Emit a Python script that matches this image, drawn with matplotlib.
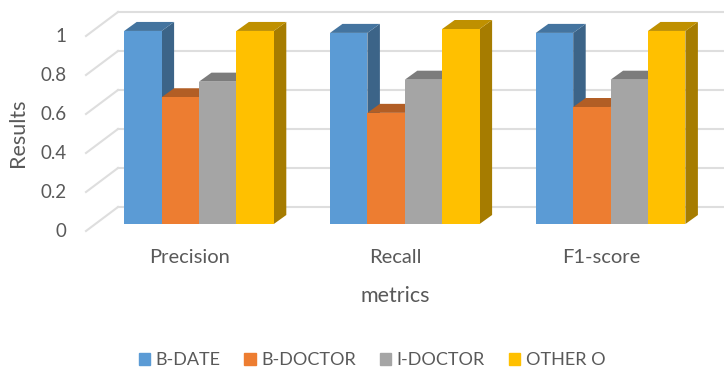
import matplotlib
matplotlib.use('Agg')
import matplotlib.pyplot as plt
from matplotlib.patches import Polygon, Patch
from matplotlib.transforms import ScaledTranslation

metrics = ['Precision', 'Recall', 'F1-score']
series = ['B-DATE', 'B-DOCTOR', 'I-DOCTOR', 'OTHER O']
b_date = [0.99, 0.98, 0.98]
b_doctor = [0.65, 0.57, 0.60]
i_doctor = [0.73, 0.74, 0.74]
other_o = [0.99, 1.0, 0.99]
y_ticks = [0, 0.2, 0.4, 0.6, 0.8, 1]
y_labels = ['0', '0.2', '0.4', '0.6', '0.8', '1']

front = ['#5b9bd5', '#ed7d31', '#a5a5a5', '#ffc000']
top = ['#44749f', '#b25e25', '#7c7c7c', '#bf9000']
side = ['#3c6488', '#b25e25', '#7c7c7c', '#a67c00']
text_col = '#595959'
grid_col = '#dedede'

plt.rcParams['font.family'] = ['Lato', 'DejaVu Sans']

W, H = 724, 369
fig = plt.figure(figsize=(W / 100, H / 100), dpi=100)
# axes box: left wall corner to right end of the grid, y from 0 to 1 on the bar plane
left, right, y0, y1 = 86, 724, 224, 29
ax = fig.add_axes([left / W, 1 - y0 / H, (right - left) / W, (y0 - y1) / H])
ax.set_ylim(0, 1)
group_px = 205.8
bar_w = 37.4 / group_px
# group centre 0 sits at pixel 199
ax.set_xlim((left - 199) / group_px, (right - 199) / group_px)

# fake 3D offsets, in data units
dx = 12.5 / group_px
dy = 9 / 195
wall_x0 = (86 - 199) / group_px
wall_x1 = (118 - 199) / group_px
wall_x2 = (724 - 199) / group_px
wall_front = -7 / 195
wall_back = 17 / 195

for v in y_ticks:
    ax.plot([wall_x0, wall_x1], [v + wall_front, v + wall_back], color=grid_col, lw=1.5, clip_on=False, zorder=1)
    ax.plot([wall_x1, wall_x2], [v + wall_back, v + wall_back], color=grid_col, lw=1.5, clip_on=False, zorder=1)

values = [b_date, b_doctor, i_doctor, other_o]
for i in range(len(metrics)):
    for j in range(4):
        v = values[j][i]
        x = i + (j - 2) * bar_w
        # side face then top then front
        ax.add_patch(Polygon([(x + bar_w, 0), (x + bar_w + dx, dy), (x + bar_w + dx, v + dy), (x + bar_w, v)],
                             closed=True, fc=side[j], ec='none', zorder=2 + j, clip_on=False))
        ax.add_patch(Polygon([(x, v), (x + dx, v + dy), (x + bar_w + dx, v + dy), (x + bar_w, v)],
                             closed=True, fc=top[j], ec='none', zorder=2 + j, clip_on=False))
        ax.bar(x, v, width=bar_w, align='edge', color=front[j], zorder=2.5 + j, clip_on=False)

for s in ax.spines.values():
    s.set_visible(False)
ax.set_yticks(y_ticks)
ax.set_yticklabels(y_labels)
ax.set_xticks(range(len(metrics)))
ax.set_xticklabels(metrics)
ax.tick_params(axis='y', length=0, labelsize=13.5, labelcolor=text_col, pad=14)
ax.tick_params(axis='x', length=0, labelsize=14.5, labelcolor=text_col, pad=18)

# labels sit on the front plane of the floor, not the bar plane
shift_y = ScaledTranslation(0, -6 / 100, fig.dpi_scale_trans)
for lab in ax.get_yticklabels():
    lab.set_transform(lab.get_transform() + shift_y)
shift_x = ScaledTranslation(-9 / 100, 0, fig.dpi_scale_trans)
for lab in ax.get_xticklabels():
    lab.set_transform(lab.get_transform() + shift_x)

fig.text(18 / W, 1 - 133 / H, 'Results', rotation=90, ha='center', va='center', fontsize=15.5, color=text_col)
fig.text(395 / W, 1 - 296 / H, 'metrics', ha='center', va='center', fontsize=15.5, color=text_col)

handles = [Patch(color=c, label=s) for c, s in zip(front, series)]
fig.legend(handles=handles, loc='center', bbox_to_anchor=(372 / W, 1 - 360 / H), ncol=4, frameon=False,
           fontsize=13, labelcolor=text_col, handlelength=0.65, handleheight=0.65, handletextpad=0.3,
           columnspacing=1.3, borderpad=0)

fig.savefig('out.png', dpi=100)
